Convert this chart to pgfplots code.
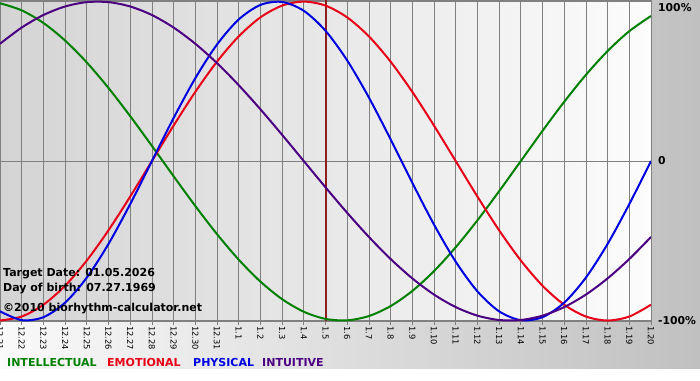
\documentclass[border=0pt]{standalone}
\usepackage{pgfplots}
\pgfplotsset{compat=1.18}
\usepackage{pgfplotstable}
\usepackage{fontspec}
\setmainfont{DejaVu Sans}
\definecolor{cint}{RGB}{0,128,0}
\definecolor{cemo}{RGB}{232,0,24}
\definecolor{cphy}{RGB}{0,0,225}
\definecolor{cintu}{RGB}{75,0,130}
\definecolor{gridc}{RGB}{128,128,128}
\definecolor{targetc}{RGB}{140,30,30}
\definecolor{plotL}{RGB}{212,212,212}
\definecolor{plotR}{RGB}{252,252,252}
\definecolor{outL}{RGB}{250,250,250}
\definecolor{outR}{RGB}{192,192,192}

\pgfplotstableread{
i phy emo int intu
0 -0.9423 -1.0000 0.9898 0.7357
1 -0.9977 -0.9749 0.9450 0.8372
2 -0.9791 -0.9010 0.8660 0.9158
3 -0.8879 -0.7818 0.7557 0.9694
4 -0.7308 -0.6235 0.6182 0.9966
5 -0.5196 -0.4339 0.4582 0.9966
6 -0.2698 -0.2225 0.2817 0.9694
7 0.0000 0.0000 0.0951 0.9158
8 0.2698 0.2225 -0.0951 0.8372
9 0.5196 0.4339 -0.2817 0.7357
10 0.7308 0.6235 -0.4582 0.6142
11 0.8879 0.7818 -0.6182 0.4759
12 0.9791 0.9010 -0.7557 0.3247
13 0.9977 0.9749 -0.8660 0.1646
14 0.9423 1.0000 -0.9450 0.0000
15 0.8170 0.9749 -0.9898 -0.1646
16 0.6310 0.9010 -0.9989 -0.3247
17 0.3984 0.7818 -0.9718 -0.4759
18 0.1362 0.6235 -0.9096 -0.6142
19 -0.1362 0.4339 -0.8146 -0.7357
20 -0.3984 0.2225 -0.6901 -0.8372
21 -0.6310 0.0000 -0.5406 -0.9158
22 -0.8170 -0.2225 -0.3717 -0.9694
23 -0.9423 -0.4339 -0.1893 -0.9966
24 -0.9977 -0.6235 0.0000 -0.9966
25 -0.9791 -0.7818 0.1893 -0.9694
26 -0.8879 -0.9010 0.3717 -0.9158
27 -0.7308 -0.9749 0.5406 -0.8372
28 -0.5196 -1.0000 0.6901 -0.7357
29 -0.2698 -0.9749 0.8146 -0.6142
30 0.0000 -0.9010 0.9096 -0.4759
}\bio

\begin{document}
\begin{tikzpicture}[x=1pt,y=1pt]
\path[use as bounding box] (0,-59) rectangle (700,321);
\shade[left color=outL, right color=outR] (0,-48) rectangle (700,321);
\fill[white] (0,-59) rectangle (700,-48);
\begin{axis}[
  at={(0,0)}, anchor=south west,
  scale only axis, width=651pt, height=321pt,
  xmin=0, xmax=30, ymin=-1.003, ymax=1.01,
  axis background/.style={shade, left color=plotL, right color=plotR},
  axis line style={gridc, line width=0.8pt},
  xtick={0,...,30},
  xticklabels={12.21,12.22,12.23,12.24,12.25,12.26,12.27,12.28,12.29,12.30,12.31,1.1,1.2,1.3,1.4,1.5,1.6,1.7,1.8,1.9,1.10,1.11,1.12,1.13,1.14,1.15,1.16,1.17,1.18,1.19,1.20},
  xtick pos=bottom,
  tick align=outside,
  major tick length=4pt,
  xtick style={gridc, line width=0.8pt},
  xticklabel style={rotate=-90, anchor=west, inner sep=1pt, font=\fontsize{8.3}{9}\selectfont},
  ytick={-1,0},
  yticklabels={-100\%,0},
  extra y ticks={1},
  extra y tick labels={100\%},
  extra y tick style={yticklabel style={yshift=-6pt}},
  ytick pos=right,
  yticklabel pos=right,
  ytick style={draw=none},
  yticklabel style={anchor=west, inner sep=0pt, xshift=3pt, font=\bfseries\fontsize{10.8}{12}\selectfont},
  grid=major,
  grid style={gridc, line width=0.8pt},
  clip=true,
]
\addplot[targetc, line width=2pt] coordinates {(15,-1.003) (15,1.01)};
\addplot[cint, line width=2pt, smooth] table[x=i, y=int] {\bio};
\addplot[cemo, line width=2pt, smooth] table[x=i, y=emo] {\bio};
\addplot[cphy, line width=2pt, smooth] table[x=i, y=phy] {\bio};
\addplot[cintu, line width=2pt, smooth] table[x=i, y=intu] {\bio};
\end{axis}
\begin{scope}[every node/.style={anchor=base west, inner sep=0pt, font=\bfseries\fontsize{11}{13}\selectfont}]
\node at (3,44.3) {Target Date: 01.05.2026};
\node at (3,30) {Day of birth: 07.27.1969};
\node at (3,9.3) {©2010 biorhythm-calculator.net};
\node[text=cint] at (7,-45) {INTELLECTUAL};
\node[text=cemo] at (107,-45) {EMOTIONAL};
\node[text=cphy] at (193,-45) {PHYSICAL};
\node[text=cintu] at (262,-45) {INTUITIVE};
\end{scope}
\end{tikzpicture}
\end{document}
